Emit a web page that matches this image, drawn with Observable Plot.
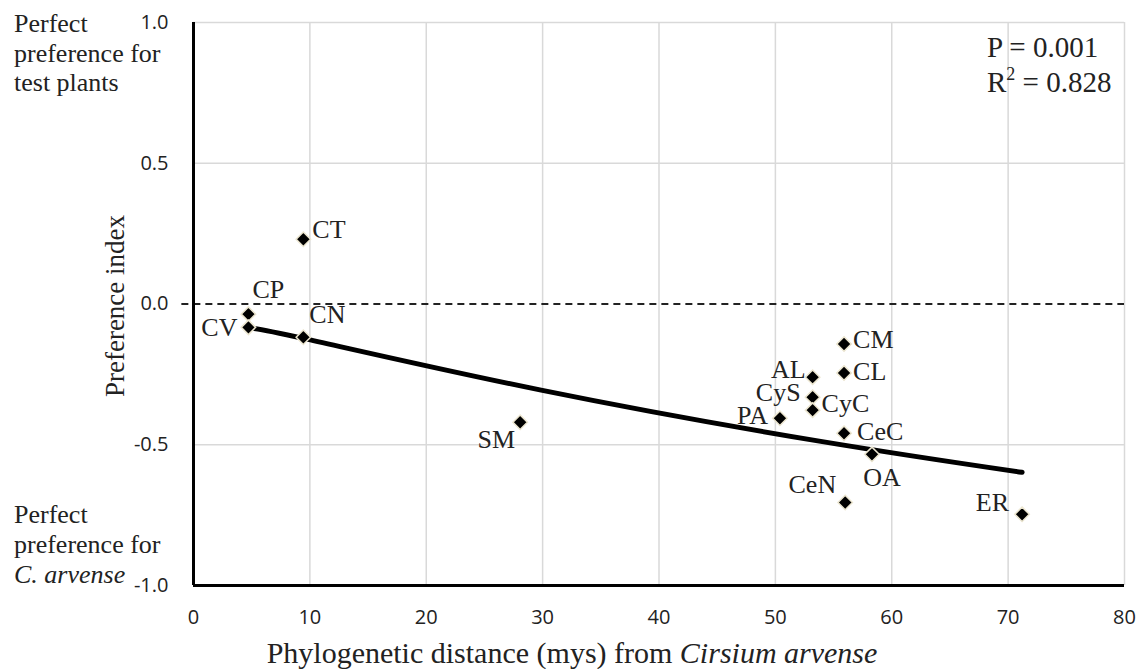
<!DOCTYPE html>
<html>
<head>
<meta charset="utf-8">
<script src="https://cdn.jsdelivr.net/npm/d3@7"></script>
<script src="https://cdn.jsdelivr.net/npm/@observablehq/plot@0.6"></script>
<style>
  html, body { margin: 0; padding: 0; background: #fff; }
  #chart { width: 1140px; height: 669px; }
</style>
</head>
<body>
<div id="chart"></div>
<script>
// ---- Data ----
const names       = ["CT", "CP", "CV", "CN", "SM", "PA", "AL", "CyS", "CyC", "CM", "CL", "CeC", "OA", "CeN", "ER"];
const distances   = [9.44, 4.72, 4.72, 9.44, 28.07, 50.39, 53.2, 53.2, 53.2, 55.9, 55.9, 55.9, 58.3, 56.0, 71.2];
const preferences = [0.230, -0.036, -0.083, -0.118, -0.420, -0.406, -0.260, -0.331, -0.377, -0.142, -0.245, -0.459, -0.534, -0.705, -0.747];

// Trend line
const trendX = [4.72, 9.44, 29.87, 53.9, 71.2];
const trendY = [-0.085, -0.122, -0.306, -0.488, -0.598];

const xTicks = [0, 10, 20, 30, 40, 50, 60, 70, 80];
const yTicks = [-1.0, -0.5, 0.0, 0.5, 1.0];

const statP  = "P = 0.001";
const statR2 = "0.828";

// ---- Tables built from arrays ----
const points = names.map((n, i) => ({name: n, x: distances[i], y: preferences[i]}));
const trend  = trendX.map((x, i) => ({x, y: trendY[i]}));

// label placement (layout, not data)
const labelPlacement = {
  CT:  {textAnchor: "start",  dx: 9,   dy: -10},
  CP:  {textAnchor: "start",  dx: 4,   dy: -24},
  CV:  {textAnchor: "end",    dx: -11, dy: 0},
  CN:  {textAnchor: "start",  dx: 6,   dy: -23},
  SM:  {textAnchor: "end",    dx: -5,  dy: 17},
  PA:  {textAnchor: "end",    dx: -12, dy: -3},
  AL:  {textAnchor: "end",    dx: -7,  dy: -8},
  CyS: {textAnchor: "end",    dx: -12, dy: -5},
  CyC: {textAnchor: "start",  dx: 9,   dy: -6},
  CM:  {textAnchor: "start",  dx: 9,   dy: -4},
  CL:  {textAnchor: "start",  dx: 9,   dy: -1},
  CeC: {textAnchor: "start",  dx: 13,  dy: -2},
  OA:  {textAnchor: "middle", dx: 10,  dy: 23},
  CeN: {textAnchor: "end",    dx: -9,  dy: -18},
  ER:  {textAnchor: "end",    dx: -13, dy: -12}
};

const serif = "'Liberation Serif', 'Times New Roman', serif";
const gridColor = "#d9d9d9";

const labelMarks = points.map(p => Plot.text([p], {
  x: "x", y: "y", text: "name",
  fontFamily: serif, fontSize: 26, fill: "#222",
  ...labelPlacement[p.name]
}));

const chart = Plot.plot({
  width: 1140,
  height: 669,
  marginLeft: 193,
  marginRight: 16,
  marginTop: 22,
  marginBottom: 84,
  style: {fontFamily: "'Open Sans', sans-serif", fontSize: "20px", background: "#fff", color: "#222"},
  x: {domain: [0, 80], ticks: xTicks, tickSize: 0, tickPadding: 24, label: null},
  y: {domain: [-1, 1], ticks: yTicks, tickSize: 0, tickPadding: 25, label: null, tickFormat: d => d.toFixed(1)},
  marks: [
    Plot.gridX(xTicks.filter(t => t > 0), {stroke: gridColor, strokeOpacity: 1, strokeWidth: 1.5}),
    Plot.gridY(yTicks.filter(t => t !== 0 && t !== -1), {stroke: gridColor, strokeOpacity: 1, strokeWidth: 1.5}),
    Plot.ruleY([0], {x1: -1, x2: 80, stroke: "#222", strokeWidth: 2, strokeDasharray: "7,5"}),
    Plot.ruleX([0], {stroke: "black", strokeWidth: 3}),
    Plot.ruleY([-1], {stroke: "black", strokeWidth: 3}),
    Plot.line(trend, {x: "x", y: "y", curve: "natural", stroke: "black", strokeWidth: 5}),
    Plot.dot(points, {x: "x", y: "y", symbol: "diamond2", r: 6.5, fill: "black", stroke: "#ece6d0", strokeWidth: 1.5}),
    ...labelMarks
  ]
});

document.getElementById("chart").appendChild(chart);

// ---- Annotations ----
const svg = d3.select(chart);
const ann = svg.append("g").attr("font-family", serif).attr("fill", "#222").attr("text-anchor", "start");

function addText(x, y, str, size, italic) {
  return ann.append("text").attr("x", x).attr("y", y).attr("text-anchor", "start")
    .attr("font-size", size).attr("font-style", italic ? "italic" : null).text(str);
}
// left annotations
addText(14, 32, "Perfect", 26);
addText(14, 62, "preference for", 26);
addText(14, 91, "test plants", 26);
addText(14, 523, "Perfect", 26);
addText(14, 553, "preference for", 26);
addText(14, 583, "C. arvense", 26, true);

// stats
addText(987, 57, statP, 29);
const r2 = ann.append("text").attr("x", 987).attr("y", 92).attr("text-anchor", "start").attr("font-size", 29);
r2.append("tspan").text("R");
r2.append("tspan").attr("font-size", 18).attr("dy", -12).text("2");
r2.append("tspan").attr("dy", 12).text(" = " + statR2);

// y-axis title
ann.append("text")
  .attr("transform", "translate(124,306) rotate(-90)")
  .attr("text-anchor", "middle")
  .attr("font-size", 27)
  .text("Preference index");

// x-axis title
const xt = ann.append("text").attr("x", 572).attr("y", 663).attr("text-anchor", "middle").attr("font-size", 30);
xt.append("tspan").text("Phylogenetic distance (mys) from ");
xt.append("tspan").attr("font-style", "italic").text("Cirsium arvense");
</script>
</body>
</html>
